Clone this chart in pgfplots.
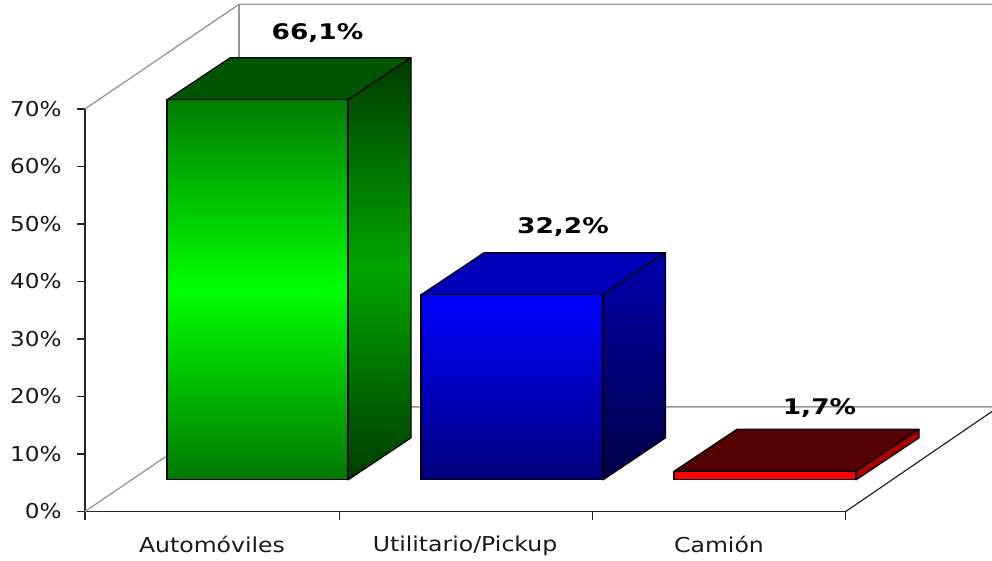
\documentclass[border=0pt]{standalone}
\usepackage{pgfplots}
\usepackage{fontspec}
\setmainfont{DejaVu Sans}
\pgfplotsset{compat=1.18}
\pgfplotsset{barf/.style={draw=black, line width=1.2pt, line join=round, y filter/.expression={y+5.5}}}
\definecolor{gTop}{RGB}{0,125,0}
\definecolor{gMid}{RGB}{0,255,0}
\definecolor{gBot}{RGB}{0,120,0}
\definecolor{gFace}{RGB}{0,85,0}
\definecolor{gSideE}{RGB}{0,60,0}
\definecolor{gSideM}{RGB}{0,165,0}
\definecolor{bTop}{RGB}{0,0,255}
\definecolor{bBot}{RGB}{0,0,125}
\definecolor{bFace}{RGB}{0,0,185}
\definecolor{bSideT}{RGB}{0,0,175}
\definecolor{bSideB}{RGB}{0,0,70}
\definecolor{rFront}{RGB}{255,0,0}
\definecolor{rSide}{RGB}{170,0,0}
\definecolor{rFace}{RGB}{85,0,0}
\definecolor{wall}{RGB}{150,150,150}
\begin{document}
\begin{tikzpicture}[x=1pt,y=1pt]
\useasboundingbox (0,0) rectangle (992,560);
\clip (0,0) rectangle (992,560);
\begin{axis}[
  at={(85pt,48.5pt)}, anchor=south west,
  scale only axis, width=760.7pt, height=402.5pt,
  xmin=85, xmax=845.7, ymin=0, ymax=70,
  clip=false, no marks,
  axis x line*=bottom, axis y line*=left,
  axis line style={black!85, line width=1.3pt, -},
  tick align=outside,
  major tick length=8pt,
  tick style={black!85, line width=1.2pt},
  ytick style={draw=black!85, line width=1.2pt},
  ytick={0,10,20,30,40,50,60,70},
  yticklabels={0\%,10\%,20\%,30\%,40\%,50\%,60\%,70\%},
  xtick={85,339.3,592.7,845.7},
  xticklabels={},
  extra x ticks={212,465,719},
  extra x tick labels={Automóviles,Utilitario/Pickup,Camión},
  extra x tick style={major tick length=0pt},
  tick label style={font=\fontsize{20.5}{23}\selectfont, text=black!90},
  yticklabel style={xscale=1.13, xshift=-10pt},
  xticklabel style={xscale=1.15, yshift=-21pt},
]
% walls and floor
\addplot[wall, line width=1.3pt] coordinates {(85,70) (239,88.2) (992,88.2)};
\addplot[wall, line width=2pt] coordinates {(239,88.2) (239,18.2)};
\addplot[wall, line width=1.3pt] coordinates {(85,0) (239,18.2) (992,18.2)};
\addplot[black!85, line width=1.2pt] coordinates {(845.7,0) (992,17.4)};
% Automóviles 66,1
\addplot[barf, fill=gFace] coordinates {(167,66.1) (348,66.1) (411,73.4) (230,73.4)} --cycle;
\addplot[barf, shading angle=33, top color=gSideE, bottom color=gSideE, middle color=gSideM] coordinates {(348,0) (411,7.3) (411,73.4) (348,66.1)} --cycle;
\addplot[barf, top color=gTop, bottom color=gBot, middle color=gMid] coordinates {(167,0) (348,0) (348,66.1) (167,66.1)} --cycle;
% Utilitario/Pickup 32,2
\addplot[barf, fill=bFace] coordinates {(421,32.2) (603,32.2) (665.5,39.5) (484,39.5)} --cycle;
\addplot[barf, shading angle=33, top color=bSideT, bottom color=bSideB] coordinates {(603,0) (665.5,7.3) (665.5,39.5) (603,32.2)} --cycle;
\addplot[barf, top color=bTop, bottom color=bBot] coordinates {(421,0) (603,0) (603,32.2) (421,32.2)} --cycle;
% Camión 1,7
\addplot[barf, fill=rFace] coordinates {(674,1.5) (856,1.5) (919,8.8) (737,8.8)} --cycle;
\addplot[barf, fill=rSide] coordinates {(856,0) (919,7.3) (919,8.8) (856,1.5)} --cycle;
\addplot[barf, fill=rFront] coordinates {(674,0) (856,0) (856,1.5) (674,1.5)} --cycle;
% value labels
\node[font=\bfseries\fontsize{21.5}{25}\selectfont, xscale=1.23] at (axis cs:317.5,83.2) {66,1\%};
\node[font=\bfseries\fontsize{21.5}{25}\selectfont, xscale=1.23] at (axis cs:563,49.5) {32,2\%};
\node[font=\bfseries\fontsize{21.5}{25}\selectfont, xscale=1.23] at (axis cs:819.5,18) {1,7\%};
\end{axis}
\end{tikzpicture}
\end{document}
